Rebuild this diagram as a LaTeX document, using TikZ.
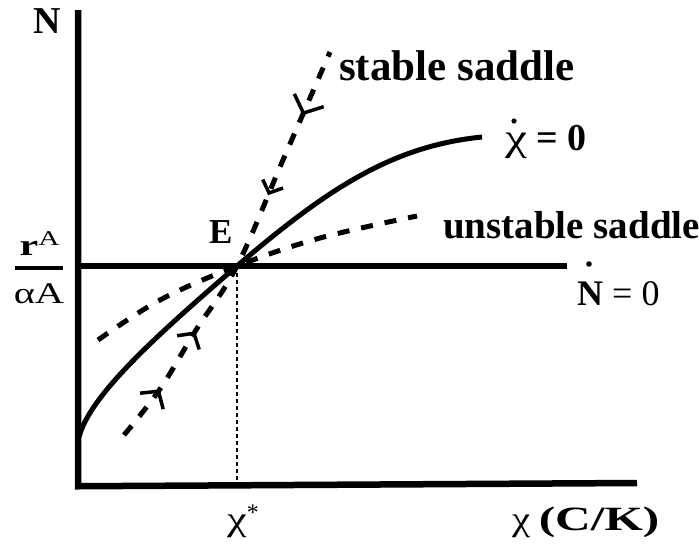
\documentclass[tikz,border=0pt]{standalone}
\usepackage{fontspec}
\setmainfont{Liberation Serif}
\usetikzlibrary{arrows.meta,decorations.markings}
\tikzset{
  axisline/.style={line width=6.5pt, line cap=butt},
  curveline/.style={line width=5pt},
  saddleline/.style={line width=5pt, dash pattern=on 12pt off 12pt},
  guideline/.style={line width=1.6pt, dash pattern=on 4pt off 3pt},
  lbl/.style={inner sep=0pt, font=\bfseries\fontsize{38}{40}\selectfont},
  barb/.style={solid, line width=3.5pt},
  dotmark/.style={fill=black}
}
\begin{document}
\begin{tikzpicture}[x=1pt,y=-1pt]
\useasboundingbox (0,0) rectangle (699,552);
% axes
\coordinate (O) at (78,483);
\coordinate (ytop) at (78,10);
\coordinate (xend) at (637,483);
\coordinate (Hl) at (78,266);
\coordinate (Hr) at (567,266);
\coordinate (E) at (237,266);
\coordinate (Ex) at (237,483);
\coordinate (Cstart) at (79,437);
\coordinate (Cend) at (482,137);
\draw[axisline] (ytop) -- (78,486.25) -- (xend);
\draw[axisline] (Hl) -- (Hr);
\draw[guideline] (E) -- (Ex);
% chi-dot = 0 curve
\draw[curveline] (Cstart) .. controls (90,395) and (157,335) .. (E)
                 .. controls (327,189) and (392,146) .. (Cend);
% unstable saddle
\draw[saddleline] plot[smooth, tension=0.6] coordinates {(98,340) (160,300) (237,266) (320,238) (417,216)};
% stable saddle
\draw[saddleline] plot[smooth, tension=0.6] coordinates {(124,435) (160,389) (196,330) (237,266) (283,160) (330,52)};
\path[decorate, decoration={markings,
  mark=at position 58pt with {\arrow[barb]{Straight Barb[length=12pt,width=28pt]}},
  mark=at position 126pt with {\arrow[barb]{Straight Barb[length=11pt,width=26pt]}},
  mark=at position 281pt with {\arrowreversed[barb]{Straight Barb[length=10pt,width=22pt]}},
  mark=at position 368pt with {\arrowreversed[barb]{Straight Barb[length=14pt,width=32pt]}}}]
  plot[smooth, tension=0.6] coordinates {(124,435) (160,389) (196,330) (237,266) (283,160) (330,52)};
% labels
\node[lbl, anchor=base west] (Nlab) at (33,33) {N};
\node[lbl, anchor=base west, font=\bfseries\fontsize{35}{38}\selectfont] (Elab) at (209,243) {E};
\node[lbl, anchor=base west, font=\bfseries\fontsize{43}{45}\selectfont] (stab) at (339,80) {stable saddle};
\node[lbl, anchor=base west, font=\bfseries\fontsize{39}{42}\selectfont] (unstab) at (443,238) {unstable saddle};
\node[lbl, anchor=base west, font=\fontsize{38}{40}\selectfont] (chidot) at (505,150) {\scalebox{1.3}[1]{χ} \textbf{= 0}};
\fill[dotmark] (514,121) circle (2.6);
\node[lbl, anchor=base west, font=\fontsize{36}{38}\selectfont] (Ndot) at (577,305) {\textbf{N} = 0};
\fill[dotmark] (589,264) circle (2.8);
\node[lbl, anchor=base, font=\fontsize{30}{32}\selectfont] (num) at (40,255) {\scalebox{1.4}[1]{\textbf{r}\textsuperscript{A}}};
\node[lbl, anchor=base, font=\fontsize{30}{32}\selectfont] (den) at (39,303) {\scalebox{1.35}[1]{αA}};
\draw[line width=3.5pt] (15,268) -- (63,268);
\node[lbl, anchor=base west, font=\fontsize{34}{36}\selectfont] (chistar) at (227,530) {\scalebox{1.3}[1]{χ}\textsuperscript{*}};
\node[lbl, anchor=base west, font=\fontsize{34}{36}\selectfont] (chiaxis) at (512,530) {\scalebox{1.2}[1]{χ} \scalebox{1.45}[1]{\textbf{(C/K)}}};
\end{tikzpicture}
\end{document}
